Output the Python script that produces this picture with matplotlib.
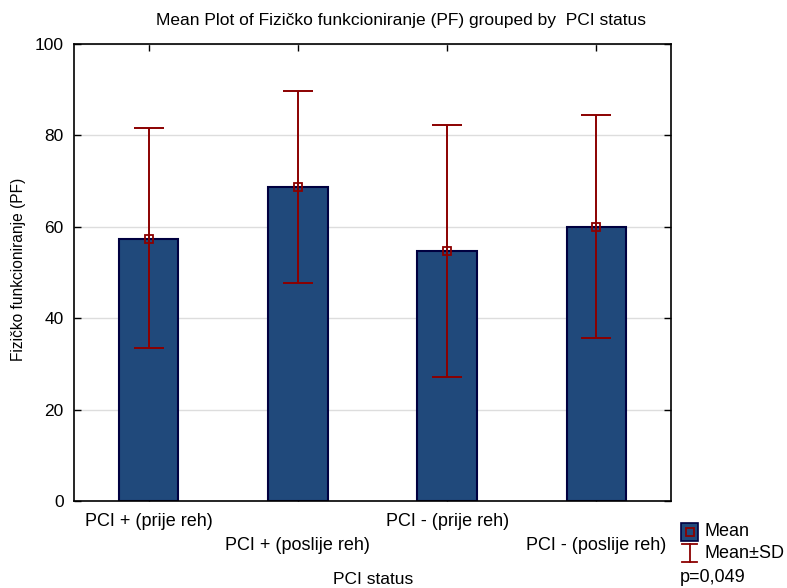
import numpy as np
import matplotlib
matplotlib.use("Agg")
import matplotlib.pyplot as plt
from matplotlib.patches import Rectangle
from matplotlib.lines import Line2D

plt.rcParams["font.family"] = ["Liberation Sans", "DejaVu Sans"]

# ── Data ───────────────────────────────────────────────────────────────────────
groups = ["PCI + (prije reh)", "PCI + (poslije reh)", "PCI - (prije reh)", "PCI - (poslije reh)"]
means  = [57.3, 68.6, 54.6, 60.0]
sd_hi  = [81.7, 89.7, 82.2, 84.5]
sd_lo  = [33.5, 47.6, 27.2, 35.7]

BAR_FC  = "#20497b"
BAR_EC  = "#000040"
ERR_C   = "#8b0000"

W, H = 787, 588


def fx(x):
    return x / W


def fy(y):
    return 1 - y / H


fig = plt.figure(figsize=(W / 100, H / 100), dpi=100)
ax = fig.add_axes([fx(74), fy(501), fx(671) - fx(74), fy(44) - fy(501)])

pos = np.arange(1, len(groups) + 1)
ax.bar(pos, means, width=0.4, color=BAR_FC, edgecolor=BAR_EC, linewidth=1.5, zorder=2)

err = [np.array(means) - np.array(sd_lo), np.array(sd_hi) - np.array(means)]
ax.errorbar(pos, means, yerr=err, fmt="none", ecolor=ERR_C, elinewidth=1.4,
            capsize=11, capthick=1.4, zorder=3)
ax.plot(pos, means, ls="none", marker="s", ms=6, mfc="none", mec=ERR_C, mew=1.3, zorder=4)

ax.set_xlim(0.5, 4.5)
ax.set_ylim(0, 100)
ax.set_yticks([0, 20, 40, 60, 80, 100])
ax.set_xticks(pos)
ax.set_xticklabels([])
ax.yaxis.grid(True, color="#dddddd", linewidth=1, zorder=0)
ax.set_axisbelow(True)
for sp in ax.spines.values():
    sp.set_linewidth(1.2)
ax.tick_params(direction="in", length=5, width=1, top=True, right=True,
               labelsize=12.5, pad=7.5)

# staggered category labels
for i, name in enumerate(groups):
    yy = 521 if i % 2 == 0 else 545
    fig.text(fx(74 + (pos[i] - 0.5) * 149.25), fy(yy), name,
             ha="center", va="center", fontsize=13)

fig.text(fx(373), fy(580), "PCI status", ha="center", va="center", fontsize=12.5)
fig.text(fx(19), fy(269), "Fizičko funkcioniranje (PF)", rotation=90,
         ha="center", va="center", fontsize=11.2)
fig.text(fx(401), fy(20), "Mean Plot of Fizičko funkcioniranje (PF) grouped by  PCI status",
         ha="center", va="center", fontsize=12.5)

# legend
fig.add_artist(Rectangle((fx(681), fy(541)), fx(17), fy(523) - fy(541),
                         facecolor=BAR_FC, edgecolor=BAR_EC, linewidth=1.2,
                         transform=fig.transFigure))
fig.add_artist(Line2D([fx(689.5)], [fy(532)], marker="s", ms=5.5, mfc="none",
                      mec=ERR_C, mew=1.3, transform=fig.transFigure))
fig.text(fx(705), fy(532), "Mean", ha="left", va="center", fontsize=13)

fig.add_artist(Line2D([fx(689.5), fx(689.5)], [fy(544), fy(562)], color=ERR_C, lw=1.3,
                      transform=fig.transFigure))
fig.add_artist(Line2D([fx(682), fx(697)], [fy(544), fy(544)], color=ERR_C, lw=1.3,
                      transform=fig.transFigure))
fig.add_artist(Line2D([fx(682), fx(697)], [fy(562), fy(562)], color=ERR_C, lw=1.3,
                      transform=fig.transFigure))
fig.text(fx(705), fy(554), "Mean±SD", ha="left", va="center", fontsize=13)
fig.text(fx(680), fy(578), "p=0,049", ha="left", va="center", fontsize=13)

fig.savefig("out.png", dpi=100)
